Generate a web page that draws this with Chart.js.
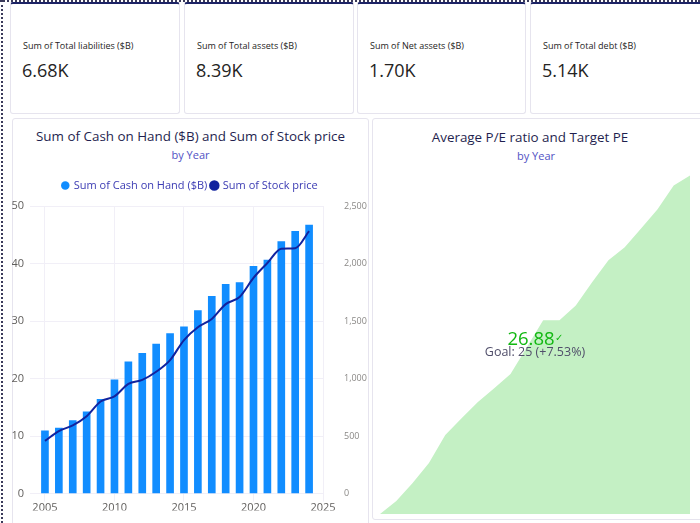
<!DOCTYPE html>
<html>
<head>
<meta charset="utf-8">
<script src="https://cdn.jsdelivr.net/npm/chart.js@4.4.0/dist/chart.umd.min.js"></script>
<style>
  body { margin: 0; width: 700px; height: 523px; background: #fff; position: relative; overflow: hidden;
         font-family: "Segoe UI", "Open Sans", sans-serif; }
  .dots-left { position: absolute; left: 1px; top: 0; width: 0; height: 523px; border-left: 2px dotted #3a3a5a; }
  .dots-top { position: absolute; left: 0; top: 0; width: 700px; height: 0; border-top: 2px dotted #3a3a5a; }
  .card { position: absolute; top: 2px; height: 112px; border: 1px solid #e6e4ee; border-top: 2px solid #1d2466;
          border-radius: 3px; background: #fff; box-sizing: border-box; }
  .card .lbl { position: absolute; left: 12px; top: 35px; font-size: 9px; color: #252423; white-space: nowrap; }
  .card .val { position: absolute; left: 11px; top: 54px; font-size: 18px; color: #252423; }
  .panel { position: absolute; border: 1px solid #e6e4ee; border-radius: 3px; box-sizing: border-box; background: #fff; }
  .title { position: absolute; left: 0; width: 100%; text-align: center; font-size: 13.4px; color: #1f1f4f; white-space: nowrap; }
  .sub { position: absolute; left: 0; width: 100%; text-align: center; font-size: 11px; color: #5252c4; }
  canvas { position: absolute; }
  .kpi { position: absolute; left: 430px; width: 210px; text-align: center; white-space: nowrap; }
</style>
</head>
<body>
<div class="dots-top"></div>
<div class="dots-left"></div>

<div class="card" style="left:10px;width:170px"><div class="lbl">Sum of Total liabilities ($B)</div><div class="val">6.68K</div></div>
<div class="card" style="left:184px;width:170px"><div class="lbl">Sum of Total assets ($B)</div><div class="val">8.39K</div></div>
<div class="card" style="left:357px;width:169px"><div class="lbl">Sum of Net assets ($B)</div><div class="val">1.70K</div></div>
<div class="card" style="left:530px;width:172px"><div class="lbl">Sum of Total debt ($B)</div><div class="val">5.14K</div></div>

<div class="panel" style="left:12px;top:118px;width:357px;height:410px">
  <div class="title" style="top:8px">Sum of Cash on Hand ($B) and Sum of Stock price</div>
  <div class="sub" style="top:28px">by Year</div>
</div>
<div class="panel" style="left:372px;top:118px;width:332px;height:402px">
  <div class="title" style="top:9px;left:-8px">Average P/E ratio and Target PE</div>
  <div class="sub" style="top:29px;left:-2px">by Year</div>
</div>

<canvas id="combo" style="left:12px;top:176px;width:356px;height:336px"></canvas>
<canvas id="pe" style="left:380px;top:150px;width:310px;height:364px"></canvas>

<div class="kpi" style="top:325px;font-size:18.5px;color:#12b812">26.88<span style="font-size:10px;vertical-align:4px">&#10003;</span></div>
<div class="kpi" style="top:343px;font-size:12.5px;color:#504e6a">Goal: 25 (+7.53%)</div>

<script>
// years on the x axis
var years = [2005, 2006, 2007, 2008, 2009, 2010, 2011, 2012, 2013, 2014,
             2015, 2016, 2017, 2018, 2019, 2020, 2021, 2022, 2023, 2024];
var xTicks = [2005, 2010, 2015, 2020, 2025];

// Sum of Cash on Hand ($B)
var cashOnHand = [10.9, 11.4, 12.7, 14.2, 16.4, 19.8, 22.9, 24.4, 26.0, 27.8,
                  29.0, 31.8, 34.3, 36.4, 36.7, 39.5, 40.6, 43.8, 45.6, 46.7];
// Sum of Stock price
var stockPrice = [458, 544, 593, 673, 801, 845, 953, 988, 1059, 1160,
                  1335, 1446, 1518, 1647, 1709, 1875, 2004, 2128, 2133, 2282];

// Average P/E ratio trend and target
var peRatio = [12.00, 12.57, 13.36, 14.24, 15.47, 16.21, 16.92, 17.53, 18.15, 19.33,
               20.52, 20.52, 21.17, 22.19, 23.15, 23.72, 24.55, 25.39, 26.44, 26.88];
var targetPE = 25;

var tickFont = { family: "'Segoe UI', 'Open Sans', sans-serif", size: 11 };

function fixWidth(w) {
  return function (scale) { scale.width = w; };
}

// adds a little room under the legend
var legendGap = {
  id: "legendGap",
  beforeInit(chart) {
    var fit = chart.legend.fit;
    chart.legend.fit = function () {
      fit.bind(chart.legend)();
      this.height += 5;
    };
  },
};

new Chart(document.getElementById("combo"), {
  type: "bar",
  data: {
    datasets: [
      {
        type: "bar",
        label: "Sum of Cash on Hand ($B)",
        data: years.map((y, i) => ({ x: y, y: cashOnHand[i] })),
        backgroundColor: "#118DFF",
        barThickness: 7,
        yAxisID: "y",
        order: 2,
      },
      {
        type: "line",
        label: "Sum of Stock price",
        data: years.map((y, i) => ({ x: y, y: stockPrice[i] })),
        borderColor: "#12239E",
        backgroundColor: "#12239E",
        borderWidth: 2,
        pointRadius: 0,
        cubicInterpolationMode: "monotone",
        yAxisID: "y2",
        order: 1,
      },
    ],
  },
  options: {
    responsive: false,
    animation: false,
    layout: { padding: 0 },
    plugins: {
      tooltip: { enabled: false },
      legend: {
        position: "top",
        labels: {
          usePointStyle: true,
          pointStyle: "circle",
          boxWidth: 6,
          boxHeight: 6,
          padding: 4,
          color: "#3b3bb3",
          font: { family: tickFont.family, size: 11 },
          sort: (a, b) => a.datasetIndex - b.datasetIndex,
        },
      },
    },
    scales: {
      x: {
        type: "linear",
        offset: false,
        min: 2004.5,
        max: 2025,
        afterBuildTicks: (axis) => { axis.ticks = xTicks.map((v) => ({ value: v })); },
        afterFit: (scale) => { scale.height = 17; },
        grid: { color: "#f1eff7", offset: false },
        border: { display: false },
        ticks: { color: "#605e5c", font: tickFont, padding: 0, callback: (v) => String(v) },
      },
      y: {
        position: "left",
        min: 0,
        max: 50,
        afterFit: fixWidth(26),
        grid: { color: "#f1eff7" },
        border: { display: false },
        ticks: { stepSize: 10, color: "#605e5c", font: tickFont, padding: 6 },
      },
      y2: {
        position: "right",
        min: 0,
        max: 2500,
        afterFit: fixWidth(45),
        grid: { display: false },
        border: { display: false },
        ticks: {
          stepSize: 500,
          color: "#8a8886",
          font: { family: tickFont.family, size: 9 },
          padding: 13,
          callback: (v) => v.toLocaleString("en-US"),
        },
      },
    },
  },
  plugins: [legendGap],
});

new Chart(document.getElementById("pe"), {
  type: "line",
  data: {
    labels: years,
    datasets: [
      {
        label: "Average P/E ratio",
        data: peRatio,
        fill: "start",
        backgroundColor: "#c4f0c4",
        borderWidth: 0,
        pointRadius: 0,
        tension: 0,
      },
    ],
  },
  options: {
    responsive: false,
    animation: false,
    layout: { padding: 0 },
    plugins: { legend: { display: false }, tooltip: { enabled: false } },
    scales: {
      x: { display: false, offset: false },
      y: { display: false, min: 12, max: 28 },
    },
  },
});
</script>
</body>
</html>
